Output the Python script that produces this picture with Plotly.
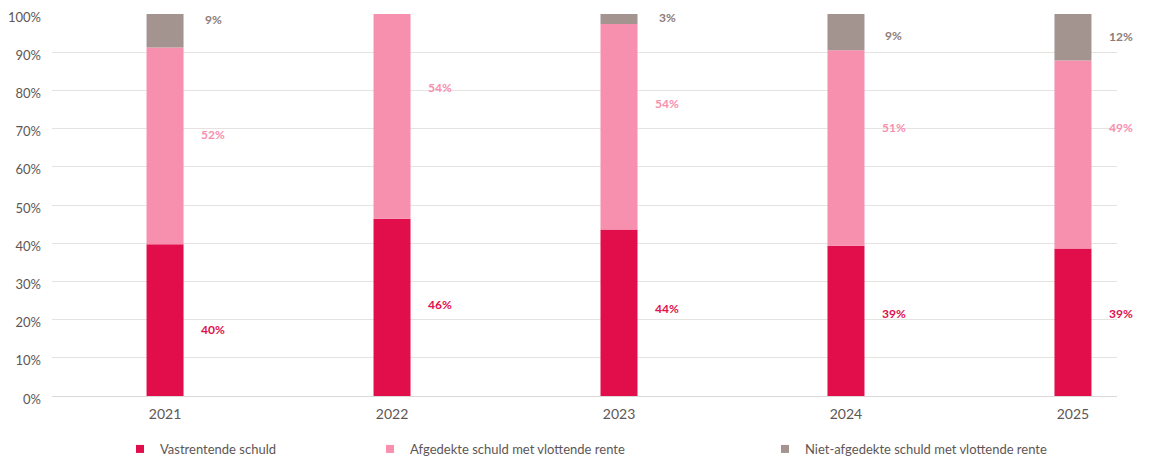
import plotly.graph_objects as go

years = ["2021", "2022", "2023", "2024", "2025"]
vast = [39.7, 46.4, 43.6, 39.3, 38.6]
afgedekt = [51.5, 53.6, 53.8, 51.2, 49.2]
niet_afgedekt = [8.8, 0.0, 2.6, 9.5, 12.2]
vast_lbl = ["40%", "46%", "44%", "39%", "39%"]
afg_lbl = ["52%", "54%", "54%", "51%", "49%"]
niet_lbl = ["9%", "", "3%", "9%", "12%"]

names = ["Vastrentende schuld", "Afgedekte schuld met vlottende rente",
         "Niet-afgedekte schuld met vlottende rente"]
bar_colors = ["#E20D4B", "#F78FAE", "#A39490"]
label_colors = ["#E0104C", "#F78FAE", "#8C7C78"]
# pixel nudges of the data labels (style only)
label_yshift = [[-9, 3, 4, 7, 9], [11, 29, 23, 21, 27], [11, 0, 1, -3, 1]]

FONT = "Lato"
xs = list(range(len(years)))
fig = go.Figure()

series = [vast, afgedekt, niet_afgedekt]
labels = [vast_lbl, afg_lbl, niet_lbl]
base = [0.0] * len(years)
for i, (vals, lbls) in enumerate(zip(series, labels)):
    fig.add_trace(go.Bar(x=xs, y=vals, base=base, width=0.163,
                         marker=dict(color=bar_colors[i], line=dict(width=0)),
                         showlegend=False, hoverinfo="skip"))
    for j, (x, b, v, t) in enumerate(zip(xs, base, vals, lbls)):
        if t:
            fig.add_annotation(x=x, y=b + v / 2, text=t, showarrow=False, xshift=48,
                               yshift=label_yshift[i][j],
                               font=dict(family=FONT, size=12, color=label_colors[i],
                                         weight="bold"))
    base = [b + v for b, v in zip(base, vals)]

leg_x = [0.0963, 0.3113, 0.6509]
for i, n in enumerate(names):
    lname = "legend" if i == 0 else f"legend{i+1}"
    fig.add_trace(go.Scatter(x=[None], y=[None], mode="markers", name=n,
                             marker=dict(symbol="square", size=8, color=bar_colors[i]),
                             legend=lname))

leg_common = dict(orientation="h", yref="container", xref="container",
                  yanchor="middle", y=0.0222, xanchor="left",
                  font=dict(family=FONT, size=13, color="#5E5654"),
                  bgcolor="rgba(0,0,0,0)")
fig.update_layout(
    width=1163, height=451,
    margin=dict(l=44, r=54, t=6, b=63, autoexpand=False),
    plot_bgcolor="white", paper_bgcolor="white",
    barmode="overlay",
    legend=dict(x=leg_x[0], **leg_common),
    legend2=dict(x=leg_x[1], **leg_common),
    legend3=dict(x=leg_x[2], **leg_common),
    xaxis=dict(range=[-0.498, 4.194], tickmode="array", tickvals=xs, ticktext=years,
               showgrid=False, zeroline=False, showline=False, ticks="",
               automargin=False, ticklabelstandoff=8,
               tickfont=dict(family=FONT, size=14, color="#5E5654")),
    yaxis=dict(range=[0, 100], tickmode="array", tickvals=list(range(0, 101, 10)),
               ticktext=[f"{v}%" for v in range(0, 101, 10)],
               showgrid=True, gridcolor="#E6E2E2", gridwidth=1,
               zeroline=True, zerolinecolor="#DCD8D8", zerolinewidth=1,
               showline=False, ticks="", ticklabelstandoff=10, automargin=False,
               ticklabeloverflow="allow", ticklabelshift=3,
               tickfont=dict(family=FONT, size=13, color="#5E5654")),
)
fig.write_html("out.html")
